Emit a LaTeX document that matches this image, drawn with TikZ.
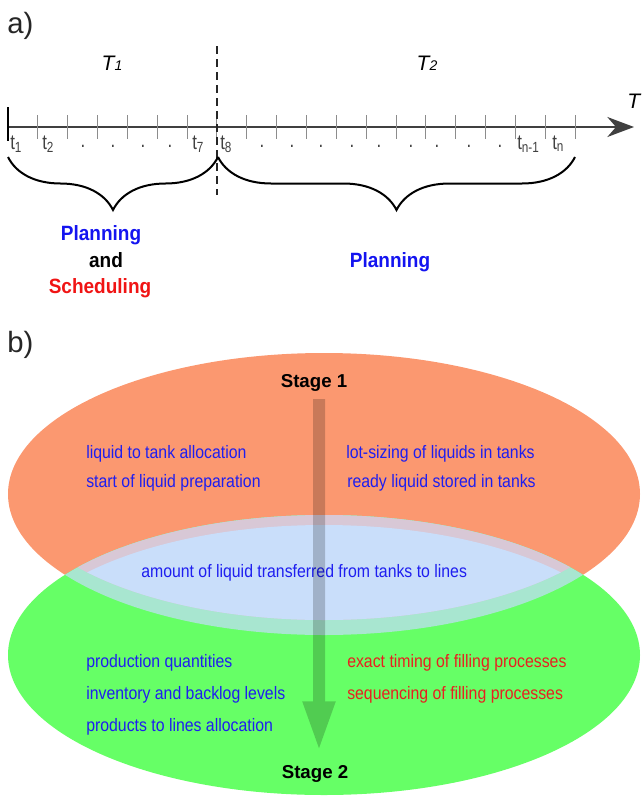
\documentclass[tikz,border=0pt]{standalone}
\usepackage{fontspec}
\setmainfont{Liberation Sans}
\newfontfamily\slotsans{Liberation Sans}[FakeStretch=0.8]
\newfontfamily\modesans{Liberation Sans}[FakeStretch=0.92]
\newfontfamily\tasksans{Liberation Sans}[FakeStretch=0.88]
\usetikzlibrary{arrows.meta,positioning,decorations.pathreplacing}
\definecolor{axisgray}{HTML}{404040}
\definecolor{tickgray}{HTML}{8C8C8C}
\definecolor{plan}{HTML}{1414F0}
\definecolor{sched}{HTML}{F01414}
\definecolor{txtblue}{HTML}{1E1EF0}
\definecolor{txtred}{HTML}{E82020}
\definecolor{stageone}{HTML}{FB9870}
\definecolor{stagetwo}{HTML}{66FF66}
\definecolor{overlap}{HTML}{C9DEFA}
\definecolor{rimpink}{HTML}{D8C8D6}
\definecolor{rimteal}{HTML}{A8E6D0}

\begin{document}
\begin{tikzpicture}[x=0.75pt, y=-0.75pt,
  panel/.style={font=\fontsize{22}{26}\selectfont, text=black!85, anchor=base west, inner sep=0},
  period/.style={font=\fontsize{15.75}{18}\selectfont\itshape, anchor=base, inner sep=0},
  slot/.style={font=\slotsans\fontsize{15.75}{18}\selectfont, text=axisgray, anchor=base west, inner sep=0},
  mode/.style={font=\modesans\fontsize{15.5}{18}\selectfont\bfseries, anchor=base, inner sep=0},
  stage/.style={font=\fontsize{14}{17}\selectfont\bfseries, anchor=base, inner sep=0},
  task/.style={font=\tasksans\fontsize{13.5}{16}\selectfont, text=txtblue, anchor=base west, inner sep=0},
  brace/.style={decorate, decoration={brace, amplitude=39.75pt}, line width=1.5pt}]
  \useasboundingbox (0,0) rectangle (642,796);

  % ---- a) time horizon
  \node[panel] (pa) at (7,33) {a)};

  % Time axis
  \coordinate (tstart) at (8,127);
  \coordinate (tend) at (634,127);
  \draw[axisgray, line width=1.5pt, -{Stealth[length=20pt, width=15pt]}] (tstart) -- (tend);
  \draw[black, line width=2pt] (8,107) -- (8,141);
  \foreach \k in {1,...,19}
    \draw[tickgray, line width=0.8pt] (8+29.85*\k,115) -- (8+29.85*\k,139);

  % Period labels
  \foreach \x/\n in {10/1, 42/2, 192/7, 220/8}
    \node[slot] (t\n) at (\x,149) {t\textsubscript{\n}};
  \node[slot] (tnm) at (517,149) {t\textsubscript{n-1}};
  \node[slot] (tn) at (552,149) {t\textsubscript{n}};
  \foreach \x in {83,113,143,170,262,292,321,352,379,411,437,469,500}
    \node[slot, anchor=base] (dot\x) at (\x,147) {.};

  \node[period] (per1) at (112,70) {T{\fontsize{10.5}{12}\selectfont 1}};
  \node[period] (per2) at (427,70) {T{\fontsize{10.5}{12}\selectfont 2}};
  \node[period, anchor=base west] (taxis) at (627,108) {T};

  % Split between T1 and T2
  \draw[black!85, line width=1.2pt, dash pattern=on 6pt off 3.75pt] (217,46) -- (217,195);

  % Braces
  \coordinate (b0) at (8,157);
  \coordinate (b7) at (218,157);
  \coordinate (bn) at (575,157);
  \draw[brace] (b7) -- (b0);
  \draw[brace] (bn) -- (b7);

  \node[mode, text=plan] (plan1) at (101,240) {Planning};
  \node[mode] (and1) at (106,267) {and};
  \node[mode, text=sched] (sched1) at (100,293) {Scheduling};
  \node[mode, text=plan] (plan2) at (390,267) {Planning};

  % ---- b) two stages
  \node[panel] (pb) at (7,352) {b)};

  \fill[stageone] (324,494) ellipse [x radius=316, y radius=141];
  \fill[stagetwo] (324,655) ellipse [x radius=316, y radius=140];

  % Overlap of both stages
  \begin{scope}
    \clip (324,494) ellipse [x radius=316, y radius=141];
    \fill[rimteal] (324,655) ellipse [x radius=316, y radius=140];
    \clip (324,655) ellipse [x radius=316, y radius=140];
    \fill[rimpink] (324,479) ellipse [x radius=316, y radius=141];
    \clip (324,479) ellipse [x radius=316, y radius=141];
    \fill[overlap] (324,665) ellipse [x radius=316, y radius=140];
  \end{scope}

  \node[stage] (s1) at (314,387) {Stage 1};
  \node[stage] (s2) at (315,778) {Stage 2};

  \node[task] (lq1) at (86,458) {liquid to tank allocation};
  \node[task] (lq2) at (86,487) {start of liquid preparation};
  \node[task] (lq3) at (346,458) {lot-sizing of liquids in tanks};
  \node[task] (lq4) at (347,487) {ready liquid stored in tanks};
  \node[task] (xfer) at (141,577) {amount of liquid transferred from tanks to lines};
  \node[task] (pq1) at (86,667) {production quantities};
  \node[task] (pq2) at (86,699) {inventory and backlog levels};
  \node[task] (pq3) at (86,731) {products to lines allocation};
  \node[task, text=txtred] (fp1) at (347,667) {exact timing of filling processes};
  \node[task, text=txtred] (fp2) at (347,699) {sequencing of filling processes};

  % Stage 1 -> Stage 2
  \begin{scope}[transparency group, opacity=0.2]
    \draw[black, line width=9pt, shorten <=6pt, shorten >=9.5pt,
      -{Triangle[length=38pt, width=22pt]}]
      ([xshift=3.75pt]s1.south) -- ([xshift=3pt]s2.north);
  \end{scope}
\end{tikzpicture}
\end{document}
